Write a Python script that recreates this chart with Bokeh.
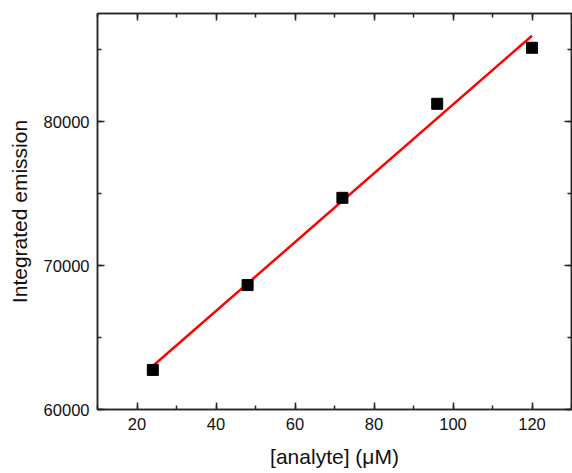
from bokeh.plotting import figure
from bokeh.models import LinearAxis, SingleIntervalTicker, Range1d, BasicTickFormatter
from bokeh.embed import file_html
from bokeh.resources import INLINE
import numpy as np

# Data
concentration = [24, 48, 72, 96, 120]
emission = [62750, 68640, 74700, 81230, 85120]

x_title = "[analyte] (\u03bcM)"
y_title = "Integrated emission"

FONT = "Liberation Sans"
AXC = "#262626"

slope, intercept = np.polyfit(concentration, emission, 1)
fit_x = [concentration[0], concentration[-1]]
fit_y = [slope * v + intercept for v in fit_x]

p = figure(width=572, height=473, output_backend="svg", toolbar_location=None,
           x_range=Range1d(10, 130), y_range=Range1d(60000, 87500),
           min_border_left=97, min_border_right=1, min_border_top=13, min_border_bottom=64,
           x_axis_location=None, y_axis_location=None)
p.background_fill_color = "white"
p.border_fill_color = "white"
p.xgrid.visible = False
p.ygrid.visible = False
p.outline_line_color = AXC
p.outline_line_width = 1.5

def make_axis(interval, labels):
    ax = LinearAxis(ticker=SingleIntervalTicker(interval=interval, num_minor_ticks=2),
                    formatter=BasicTickFormatter(use_scientific=False))
    ax.axis_line_color = AXC
    ax.axis_line_width = 1.5
    ax.major_tick_line_color = AXC
    ax.minor_tick_line_color = AXC
    ax.major_tick_line_width = 1.5
    ax.minor_tick_line_width = 1.5
    ax.major_tick_in = 7
    ax.major_tick_out = 0
    ax.minor_tick_in = 4
    ax.minor_tick_out = 0
    if labels:
        ax.major_label_text_font = FONT
        ax.major_label_text_font_size = "16.5px"
        ax.major_label_text_color = "#111111"
        ax.major_label_standoff = 8
        ax.axis_label_text_font = FONT
        ax.axis_label_text_font_size = "21px"
        ax.axis_label_text_font_style = "normal"
        ax.axis_label_text_color = "#111111"
    else:
        ax.major_label_text_font_size = "0px"
        ax.major_label_standoff = 0
        ax.major_label_text_color = None
    return ax

xb = make_axis(20, True)
xb.axis_label = x_title
xb.axis_label_standoff = 12
yl = make_axis(10000, True)
yl.axis_label = y_title
yl.axis_label_standoff = 10
xt = make_axis(20, False)
yr = make_axis(10000, False)

p.add_layout(xb, "below")
p.add_layout(yl, "left")
p.add_layout(xt, "above")
p.add_layout(yr, "right")

p.line(fit_x, fit_y, line_color="#ff0000", line_width=2.5)
p.scatter(concentration, emission, marker="square", size=11, fill_color="black", line_color="black")

open("out.html", "w").write(file_html(p, INLINE))
